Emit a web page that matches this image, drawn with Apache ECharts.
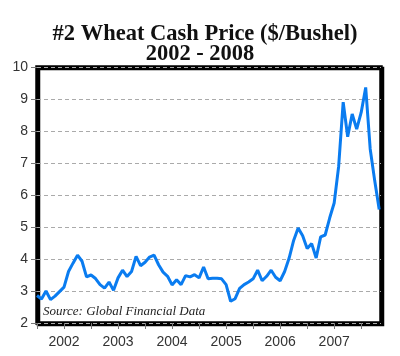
<!DOCTYPE html>
<html>
<head>
<meta charset="utf-8">
<script src="https://cdn.jsdelivr.net/npm/echarts@6/dist/echarts.min.js"></script>
<style>html,body{margin:0;padding:0;background:#fff;}#c{width:400px;height:356px;}</style>
</head>
<body>
<div id="c"></div>
<script>
// Year labels (placed mid-year), months counted from Jan 2002
const years = ['2002', '2003', '2004', '2005', '2006', '2007'];
// Monthly #2 wheat cash price, Jan 2002 .. May 2008 ($/bushel)
const prices = [
  2.86, 2.75, 3.00, 2.73, 2.84, 2.98, 3.12, 3.61, 3.87, 4.12, 3.93, 3.44,
  3.50, 3.39, 3.20, 3.09, 3.28, 3.02, 3.41, 3.65, 3.45, 3.61, 4.08, 3.79,
  3.90, 4.06, 4.12, 3.82, 3.59, 3.46, 3.19, 3.35, 3.20, 3.48, 3.44, 3.51,
  3.41, 3.75, 3.38, 3.40, 3.40, 3.38, 3.20, 2.68, 2.76, 3.08, 3.20, 3.28,
  3.38, 3.65, 3.32, 3.46, 3.65, 3.43, 3.32, 3.61, 4.03, 4.58, 4.97, 4.73,
  4.33, 4.48, 4.03, 4.69, 4.75, 5.28, 5.75, 6.90, 8.90, 7.82, 8.53, 8.06,
  8.58, 9.36, 7.44, 6.45, 5.55
];
const titleLines = ['#2 Wheat Cash Price ($/Bushel)', '2002 - 2008'];
const sourceText = 'Source: Global Financial Data';

const seriesData = prices.map((v, i) => [i, v]);

const chart = echarts.init(document.getElementById('c'), null, {renderer: 'canvas'});
chart.setOption({
  animation: false,
  backgroundColor: '#fff',
  title: {
    text: '{a|' + titleLines[0] + '}\n{b|' + titleLines[1] + '}',
    left: 'center',
    top: 19,
    textStyle: {
      rich: {
        a: {fontFamily: 'Liberation Serif', fontWeight: 'bold', fontSize: 22.5, lineHeight: 20, color: '#111', padding: [0, 0, 0, 10]},
        b: {fontFamily: 'Liberation Serif', fontWeight: 'bold', fontSize: 22.5, lineHeight: 20, color: '#111'}
      }
    }
  },
  grid: {
    left: 37, right: 19, top: 67, bottom: 33,
    show: true,
    borderColor: '#000',
    borderWidth: 3.5,
    backgroundColor: '#fff',
    shadowColor: '#000',
    shadowBlur: 0,
    shadowOffsetX: 1.5,
    shadowOffsetY: 1.5
  },
  xAxis: {
    type: 'value',
    min: 0,
    max: 76.4,
    interval: 6,
    axisLine: {show: false},
    axisTick: {show: true, length: 6, lineStyle: {color: '#777'}},
    splitLine: {show: false},
    axisLabel: {
      showMaxLabel: false,
      margin: 12,
      fontFamily: 'Liberation Sans',
      fontSize: 14,
      color: '#333',
      formatter: v => (v % 12 === 6 ? years[(v - 6) / 12] : '')
    }
  },
  yAxis: {
    type: 'value',
    min: 2,
    max: 10,
    interval: 1,
    axisLine: {show: false},
    axisTick: {show: true, length: 6, lineStyle: {color: '#777'}},
    splitLine: {show: true, lineStyle: {color: '#aaa', type: [4, 3], width: 1}},
    axisLabel: {
      margin: 9,
      fontFamily: 'Liberation Sans',
      fontSize: 14,
      color: '#333'
    }
  },
  graphic: [{
    type: 'text',
    left: 43,
    top: 305,
    style: {
      text: sourceText,
      font: 'italic 13px "Liberation Serif"',
      fill: '#222'
    }
  }],
  series: [{
    type: 'line',
    data: seriesData,
    showSymbol: false,
    lineStyle: {color: '#0a7cf0', width: 3},
    z: 3
  }]
});
</script>
</body>
</html>
